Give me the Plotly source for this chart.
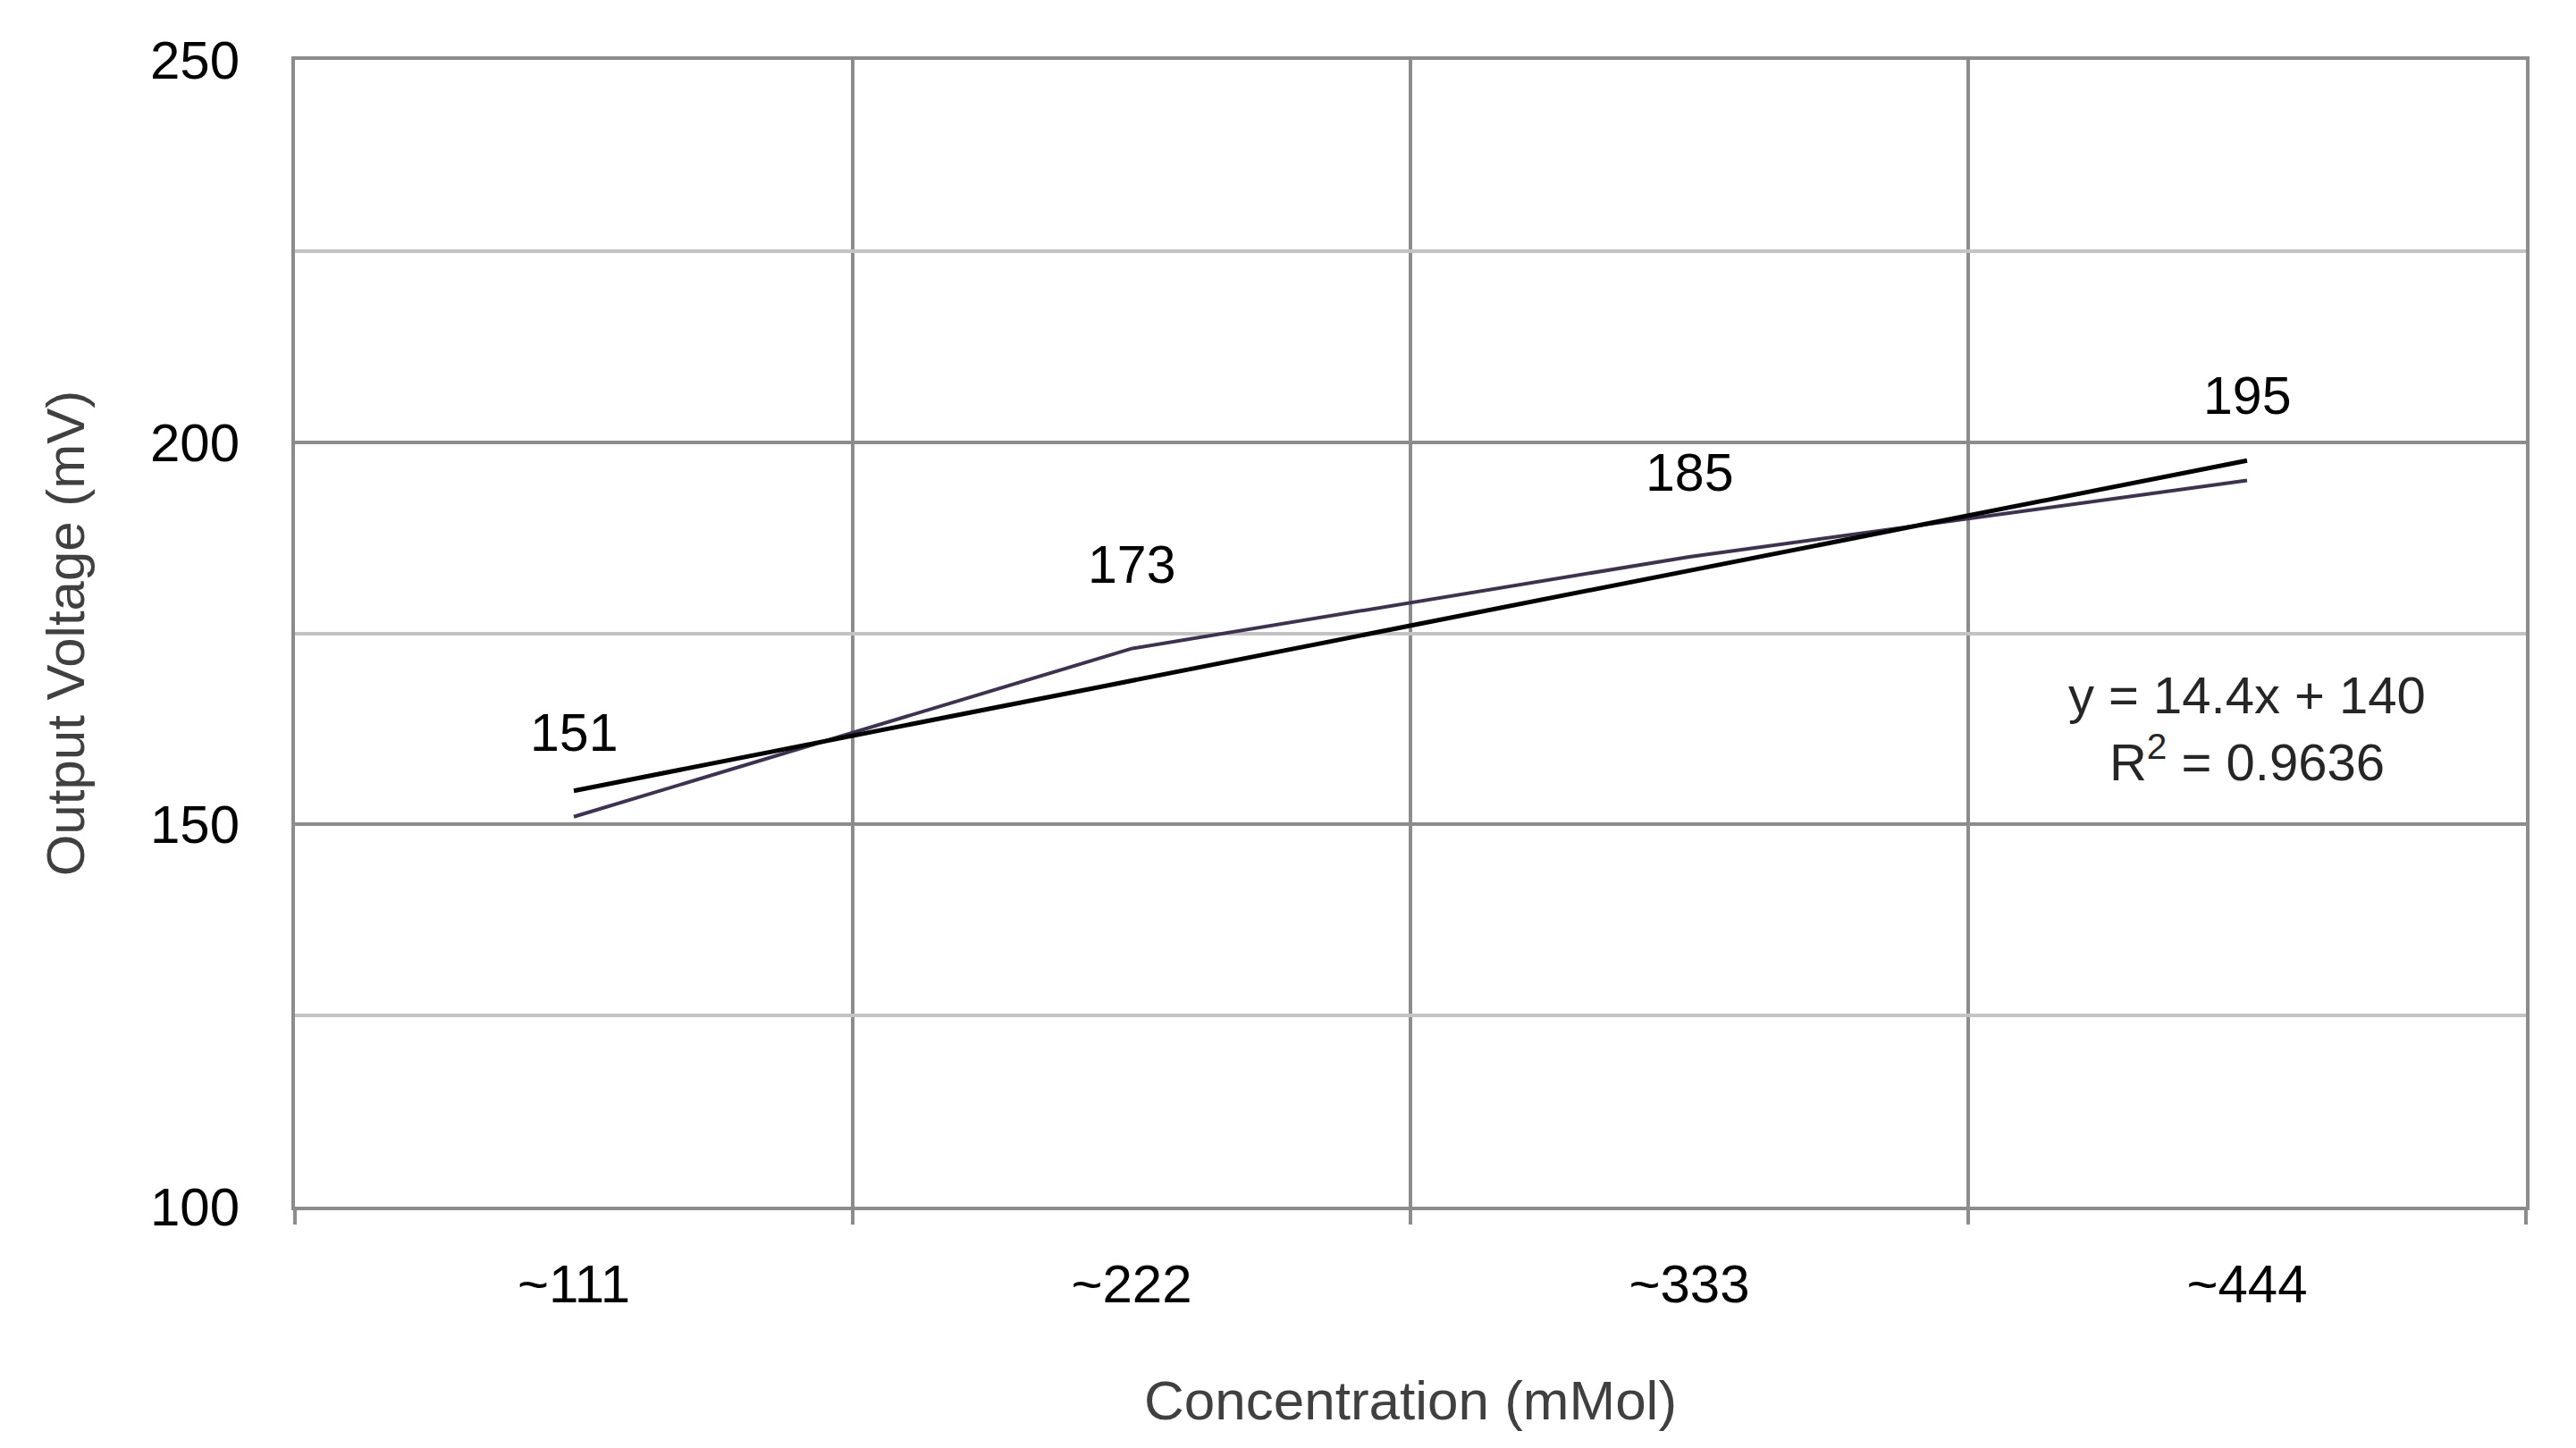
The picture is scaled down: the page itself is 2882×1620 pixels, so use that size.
import numpy as np
import plotly.graph_objects as go

categories = ["~111", "~222", "~333", "~444"]
voltage = [151, 173, 185, 195]
y_ticks = [100, 150, 200, 250]
y_minor = [125, 175, 225]

xpos = np.arange(1, len(categories) + 1)
slope, intercept = np.polyfit(xpos, voltage, 1)
fit = slope * xpos + intercept
ss_res = np.sum((np.array(voltage) - fit) ** 2)
ss_tot = np.sum((np.array(voltage) - np.mean(voltage)) ** 2)
r2 = 1 - ss_res / ss_tot

FONT = "Liberation Sans, Arial, sans-serif"
GRID_DARK = "#8c8c8c"
GRID_LIGHT = "#c3c3c3"

fig = go.Figure()
fig.add_trace(go.Scatter(x=xpos, y=voltage, mode="lines",
                         line=dict(color="#3f3151", width=4), showlegend=False))
fig.add_trace(go.Scatter(x=[xpos[0], xpos[-1]], y=[fit[0], fit[-1]], mode="lines",
                         line=dict(color="#000000", width=5), showlegend=False))

for xv, yv in zip(xpos, voltage):
    fig.add_annotation(x=xv, y=yv, text=str(yv), showarrow=False, yshift=94,
                       font=dict(family=FONT, size=59, color="#000000"))

fig.add_annotation(x=xpos[-1], y=162.5,
                   text=f"y = {slope:.1f}x + {intercept:.0f}<br>R<sup>2</sup> = {r2:.4f}",
                   showarrow=False, align="center",
                   font=dict(family=FONT, size=58, color="#262626"))

fig.update_layout(
    width=2882, height=1620,
    margin=dict(l=322, r=64, t=59, b=278),
    paper_bgcolor="white", plot_bgcolor="white",
    font=dict(family=FONT, color="#000000"),
)
fig.update_xaxes(
    range=[0.5, 4.5], tickmode="array", tickvals=list(xpos), ticktext=categories,
    showgrid=False, ticks="", zeroline=False,
    tickfont=dict(family=FONT, size=60, color="#000000"),
    ticklabelstandoff=31,
    showline=True, mirror=True, linecolor=GRID_DARK, linewidth=4,
    minor=dict(tickmode="array", tickvals=[0.5, 1.5, 2.5, 3.5, 4.5],
               showgrid=True, gridcolor=GRID_DARK, gridwidth=4,
               ticks="outside", ticklen=16, tickwidth=4, tickcolor=GRID_DARK),
    title=dict(text="Concentration (mMol)", standoff=77,
               font=dict(family=FONT, size=62, color="#404040")),
)
fig.update_yaxes(
    range=[100, 250], tickmode="array", tickvals=y_ticks,
    showgrid=True, gridcolor=GRID_DARK, gridwidth=4, zeroline=False,
    ticks="", tickfont=dict(family=FONT, size=60, color="#000000"),
    ticklabelstandoff=46,
    showline=True, mirror=True, linecolor=GRID_DARK, linewidth=4,
    minor=dict(tickmode="array", tickvals=y_minor, showgrid=True,
               gridcolor=GRID_LIGHT, gridwidth=4, ticks=""),
    title=dict(text="Output Voltage (mV)", standoff=55,
               font=dict(family=FONT, size=60, color="#404040")),
)

fig.write_html("out.html")
